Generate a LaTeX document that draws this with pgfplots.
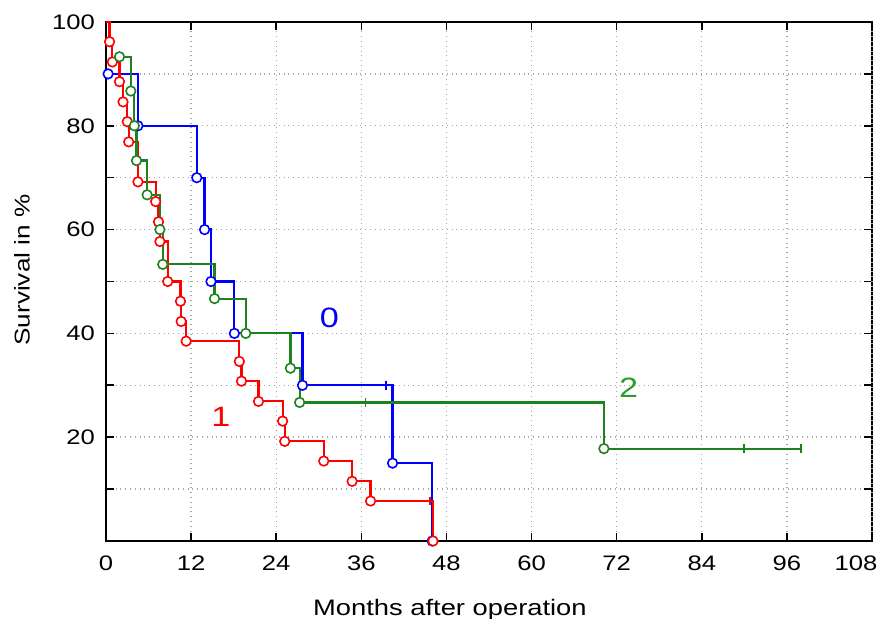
\documentclass[border=0pt]{standalone}
\usepackage{fontspec}
\setmainfont{Liberation Sans}[FakeStretch=1.22]
\usepackage{pgfplots}
\pgfplotsset{compat=1.18}

\definecolor{kmblue}{RGB}{0,0,255}
\definecolor{kmred}{RGB}{255,0,0}
\definecolor{kmgreen}{RGB}{30,130,30}
\definecolor{lblgreen}{RGB}{40,160,40}

\begin{document}
\begin{tikzpicture}
\begin{axis}[
	scale only axis, width=383pt, height=259.5pt,
	xmin=0, xmax=108, ymin=0, ymax=100,
	xtick={0,12,...,96},
	extra x ticks={108},
	extra x tick style={xticklabel style={xshift=-8pt}},
	ytick={20,40,60,80,100},
	minor ytick={10,30,50,70,90},
	tick align=inside,
	major tick length=4pt, minor tick length=4pt,
	every tick/.style={black, line width=0.8pt},
	grid=both,
	major grid style={dotted, black!35, line width=0.7pt},
	minor grid style={dotted, black!35, line width=0.7pt},
	axis line style={line width=1pt},
	/pgf/number format/assume math mode=true,
	ticklabel style={font=\fontsize{10.5}{12}\selectfont},
	xticklabel style={yshift=-4pt},
	yticklabel style={xshift=-2pt},
	xlabel={Months after operation},
	ylabel={Survival in \%},
	every axis x label/.style={at={(axis description cs:0.449,-0.133)}, anchor=center,
		font=\fontsize{11.2}{13}\selectfont},
	every axis y label/.style={at={(axis description cs:-0.1097,0.522)}, rotate=90, anchor=center,
		font=\fontsize{10.7}{13}\selectfont},
	every axis plot/.append style={const plot, line width=1.1pt},
	]
	% group 0
	\addplot[color=kmblue, mark=*, mark size=2.4pt, mark options={fill=white, line width=0.8pt}] coordinates {
		(  0.3,  90)
		(  4.5,  80)
		( 12.8,  70)
		( 13.9,  60)
		( 14.8,  50)
		( 18.1,  40)
		( 27.7,  30)
		( 40.4,  15)
		( 46.0,   0)
	};
	\addplot[color=kmblue, only marks, mark=|, mark size=2.2pt, mark options={line width=0.9pt}] coordinates {
		( 39.5,  30)
	};
	% group 1
	\addplot[color=kmred, mark=*, mark size=2.4pt, mark options={fill=white, line width=0.8pt},
		mark indices={2,3,4,5,6,7,8,9,10,11,12,13,14,15,16,17,18,19,20,21,22,23,24}] coordinates {
		(  0.0, 100)
		(  0.5,  96.2)
		(  0.9,  92.3)
		(  1.9,  88.5)
		(  2.4,  84.6)
		(  3.0,  80.8)
		(  3.2,  76.9)
		(  4.5,  69.2)
		(  7.0,  65.4)
		(  7.4,  61.5)
		(  7.6,  57.7)
		(  8.7,  50.0)
		( 10.5,  46.2)
		( 10.6,  42.3)
		( 11.3,  38.5)
		( 18.8,  34.6)
		( 19.1,  30.8)
		( 21.5,  26.9)
		( 24.9,  23.1)
		( 25.2,  19.2)
		( 30.7,  15.4)
		( 34.7,  11.5)
		( 37.3,   7.7)
		( 46.1,   0)
	};
	\addplot[color=kmred, only marks, mark=|, mark size=2.2pt, mark options={line width=0.9pt}] coordinates {
		( 45.7,   7.7)
	};
	% group 2
	\addplot[color=kmgreen, mark=*, mark size=2.4pt, mark options={fill=white, line width=0.8pt},
		mark indices={1,2,3,4,5,6,7,8,9,10,11,12}] coordinates {
		(  1.9,  93.3)
		(  3.5,  86.7)
		(  4.0,  80.0)
		(  4.3,  73.3)
		(  5.8,  66.7)
		(  7.6,  60.0)
		(  8.0,  53.3)
		( 15.3,  46.7)
		( 19.7,  40.0)
		( 26.0,  33.3)
		( 27.3,  26.7)
		( 70.2,  17.8)
		( 98.0,  17.8)
	};
	\addplot[color=kmgreen, only marks, mark=|, mark size=2.2pt, mark options={line width=0.9pt}] coordinates {
		( 36.6,  26.7)
		( 89.9,  17.8)
		( 98.0,  17.8)
	};
	\node[kmblue, font=\fontsize{14}{16}\selectfont] at (axis cs:31.5,43) {0};
	\node[kmred, font=\fontsize{14}{16}\selectfont] at (axis cs:16.2,24) {1};
	\node[lblgreen, font=\fontsize{14}{16}\selectfont] at (axis cs:73.7,29.5) {2};
\end{axis}
\pgfresetboundingbox
\path[use as bounding box] ([shift={(-53pt,-39pt)}]current axis.south west) rectangle ([shift={(4.5pt,11pt)}]current axis.north east);
\end{tikzpicture}
\end{document}
